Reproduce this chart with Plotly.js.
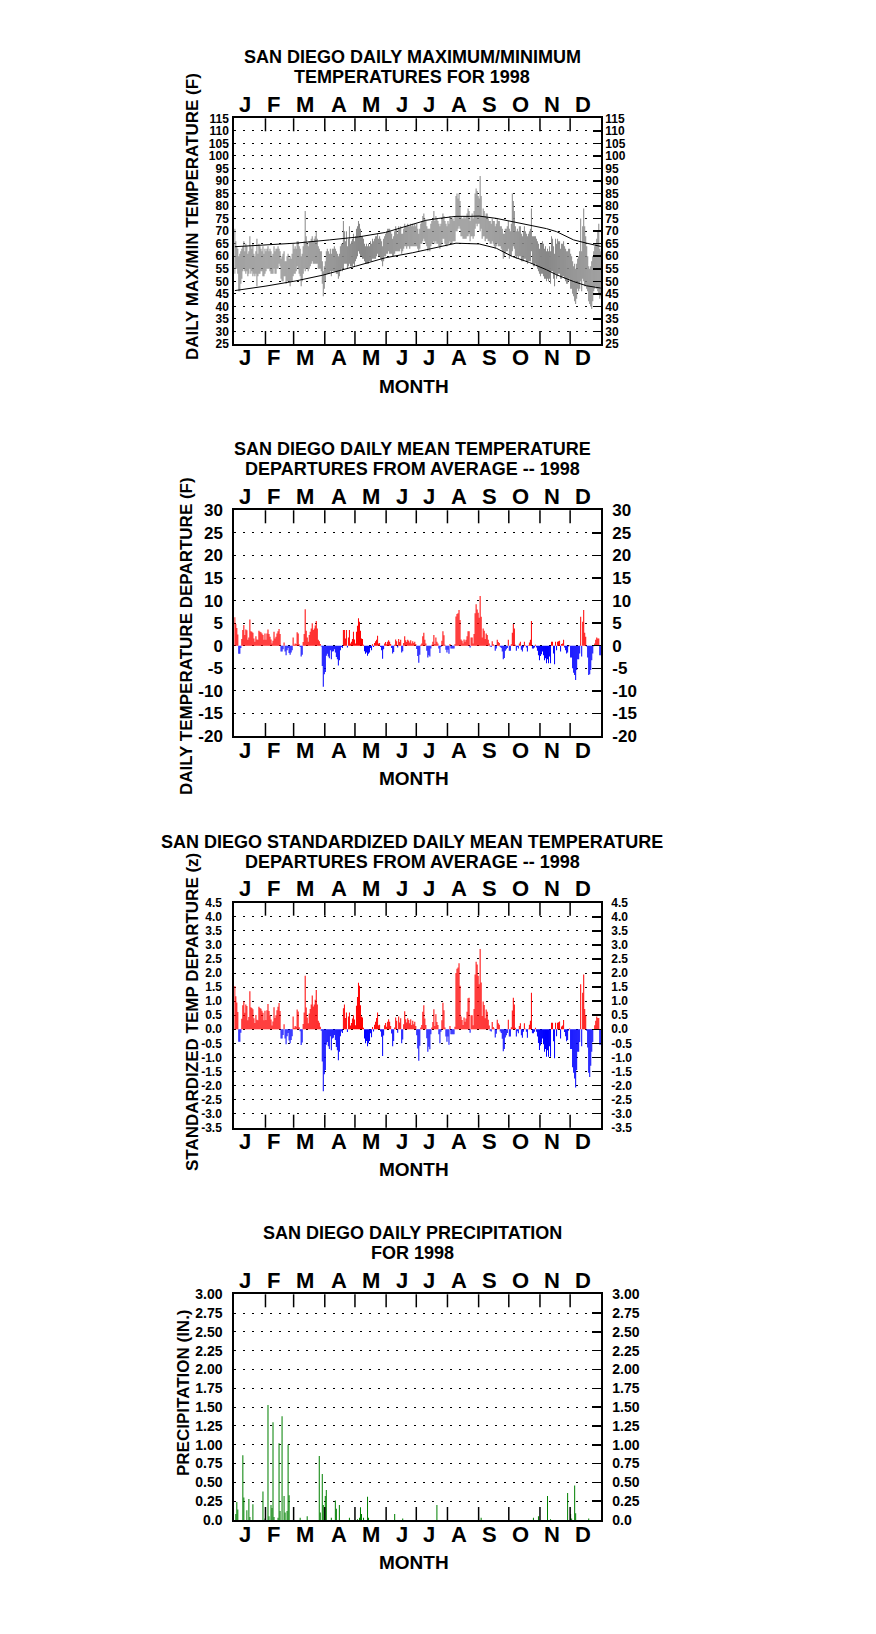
<!DOCTYPE html>
<html><head><meta charset="utf-8">
<script src="https://cdn.plot.ly/plotly-3.0.1.min.js"></script>
<style>html,body{margin:0;padding:0;background:#fff}#chart{width:876px;height:1634px}</style>
</head><body><div id="chart"></div>
<script>
// ---------- DATA ----------
const monthLetters = ['J','F','M','A','M','J','J','A','S','O','N','D'];
const monthLabelPos = [11,39.7,70.7,105,136.7,167,194,223.5,254,285,316,347];
const monthStarts = [32,60,91,121,152,182,213,244,274,305,335];

const tempTicks = [25,30,35,40,45,50,55,60,65,70,75,80,85,90,95,100,105,110,115];
const depTicks = [-20,-15,-10,-5,0,5,10,15,20,25,30];
const zTicks = [-3.5,-3.0,-2.5,-2.0,-1.5,-1.0,-0.5,0,0.5,1.0,1.5,2.0,2.5,3.0,3.5,4.0,4.5];
const zTickText = ['-3.5','-3.0','-2.5','-2.0','-1.5','-1.0','-0.5','0.0','0.5','1.0','1.5','2.0','2.5','3.0','3.5','4.0','4.5'];
const precipTicks = [0,0.25,0.5,0.75,1,1.25,1.5,1.75,2,2.25,2.5,2.75,3];
const precipTickText = ['0.0','0.25','0.50','0.75','1.00','1.25','1.50','1.75','2.00','2.25','2.50','2.75','3.00'];

// daily maximum / minimum temperatures (F)
const tmax = [
71,66,64,63,60,61,62,63,64,66,62,65,64,61,62,68,64,63,65,61,60,62,67,61,65,64,63,62,64,61,63,
62,63,64,62,63,62,60,61,64,62,63,63,64,63,62,59,60,61,62,58,58,60,61,59,60,59,61,65,
63,64,63,66,66,64,63,60,61,64,66,78,68,65,64,66,66,67,68,66,67,68,70,67,64,63,62,62,58,54,56,
58,62,63,62,61,63,61,63,63,64,63,62,61,60,61,64,65,65,74,70,66,70,64,67,72,65,66,67,69,66,
68,71,72,74,73,71,68,68,67,65,64,65,64,65,64,66,65,67,66,67,68,68,69,67,68,67,66,64,67,68,69,
70,71,71,71,70,69,67,68,70,72,71,69,72,71,72,69,69,71,73,72,72,73,72,72,73,72,73,72,73,72,
73,71,69,71,73,74,76,77,75,74,72,71,71,71,73,74,75,78,74,76,75,74,73,72,73,75,77,76,74,73,72,
74,73,76,75,75,75,74,76,84,85,83,85,82,76,75,75,76,75,76,77,79,78,74,76,77,75,78,85,87,86,84,
83,92,84,76,79,78,76,77,77,75,74,74,73,75,74,74,72,73,75,74,74,72,72,71,69,69,71,71,72,74,
71,70,73,85,82,78,72,70,71,70,72,72,69,68,70,72,70,69,68,69,70,71,79,68,68,68,68,67,66,65,63,
65,65,66,65,63,64,62,63,62,64,62,68,67,64,61,67,65,67,66,66,63,65,65,66,64,63,62,62,63,63,
61,60,58,56,57,55,57,59,60,62,75,62,72,79,72,68,64,60,56,55,56,58,60,62,64,65,67,70,73,63,62];
const tmin = [
53,55,55,53,46,46,49,51,54,55,54,53,54,52,53,55,53,54,52,53,52,53,48,52,53,53,54,54,52,52,53,
54,55,55,55,54,53,53,53,55,53,53,55,55,57,56,51,50,50,52,52,49,50,50,50,48,50,50,52,
53,53,54,56,55,53,52,48,50,53,55,54,55,55,54,55,56,57,58,57,57,57,57,57,55,55,55,54,49,44,47,
50,53,53,53,53,54,52,54,54,54,54,53,53,51,52,54,55,54,55,57,57,57,55,56,57,56,56,56,57,56,
58,59,60,62,61,60,60,59,59,58,57,57,57,57,58,58,58,59,59,59,59,60,61,60,60,59,58,56,58,60,60,
61,61,62,61,61,61,60,60,61,62,62,62,62,62,63,61,62,63,64,64,63,64,64,63,64,64,64,64,64,64,
64,63,62,63,65,65,66,67,66,65,64,62,63,62,64,65,65,66,65,66,65,65,64,63,64,65,67,67,65,64,64,
65,65,66,65,65,66,66,66,70,70,71,72,71,68,68,67,67,67,67,68,68,69,66,68,68,67,68,71,73,72,73,
73,70,71,67,68,68,66,67,67,66,66,65,65,66,65,64,63,64,65,64,64,64,63,62,59,60,61,62,62,63,
59,60,60,62,64,63,60,59,60,59,60,60,58,58,58,59,59,58,57,58,58,58,62,57,56,56,57,56,55,54,53,
52,53,53,52,51,51,50,51,50,51,49,54,54,51,48,53,51,52,53,53,51,51,52,52,51,50,49,49,50,51,
47,47,45,44,42,41,43,47,46,47,50,46,51,50,48,48,47,46,42,41,40,39,42,46,47,48,47,46,45,43,44];

// normal daily max / min (F), read at sample days
const normMaxDays = [1,32,61,95,124,151,164,178,191,204,221,234,244,261,277,294,311,321,338,351,365];
const normMax =     [63.8,64.6,65.2,66.5,67.7,69.5,71.0,72.5,74.3,75.1,75.9,75.9,76.0,75.1,73.8,72.4,71.0,69.8,66.5,65.2,63.9];
const normMinDays = [1,32,61,88,121,151,178,204,221,244,261,277,294,311,321,338,351,365];
const normMin =     [46.3,48.1,50.1,52.4,56.0,59.4,61.4,63.8,65.2,64.9,63.2,59.9,57.5,54.6,52.6,49.9,48.2,47.3];

// daily mean temperature departures (F)
const depF = [
6.3,4.8,3.9,2.5,-1.8,-1.8,-0.5,1.5,3.5,4.6,2.4,3.6,3.4,1.3,1.8,5.8,3.2,3.1,2.9,1.6,0.9,2.1,1.4,1.3,3.3,3.1,3.0,2.7,2.4,1.3,2.7,
1.3,2.7,3.6,2.6,2.0,1.4,0.5,1.1,3.1,1.6,2.0,2.7,3.2,3.7,2.6,-1.3,-1.3,-0.8,0.7,-1.3,-2.1,-1.0,-0.5,-1.6,-2.0,-1.5,-1.0,1.8,
0.2,0.5,0.4,3.0,2.7,0.3,-0.3,-2.4,-2.0,0.8,2.6,8.1,3.3,1.8,0.9,2.4,3.1,3.8,5.0,3.5,3.8,4.5,5.5,3.8,1.3,1.0,0.4,-0.2,-4.5,-9.1,-6.3,
-5.8,-2.2,-1.8,-2.4,-2.8,-1.0,-3.0,-1.3,-1.2,-0.8,-1.5,-2.5,-3.0,-4.4,-3.2,-1.0,-0.3,-0.5,3.5,3.5,1.6,3.5,-0.4,1.8,3.5,0.5,0.9,1.5,3.1,1.4,
0.5,3.1,4.4,6.1,5.3,3.3,1.6,1.5,0.2,-1.2,-1.8,-1.5,-2.2,-1.8,-1.5,-0.5,-1.0,0.3,-0.3,0.6,1.0,1.3,2.2,0.5,0.6,-0.3,-1.0,-2.9,-0.8,0.5,0.8,
0.3,0.9,1.2,0.9,0.4,-0.5,-1.7,-1.4,0.2,1.4,1.0,-0.4,1.5,0.8,1.3,-1.5,-1.2,0.6,2.1,1.2,0.8,1.3,1.1,0.7,1.2,0.5,1.0,0.6,0.9,0.4,
-0.7,-2.3,-3.8,-2.0,0.2,0.5,2.1,2.9,1.3,0.5,-1.1,-2.6,-2.1,-2.4,-0.6,0.2,0.9,2.4,0.4,1.8,0.9,0.5,-0.6,-1.6,-0.3,1.1,3.2,2.3,0.2,-0.9,-1.5,
-0.9,-1.8,0.4,-0.6,-0.6,-0.6,-0.6,0.3,6.5,7.0,7.2,7.9,5.7,1.4,1.1,0.5,1.4,0.9,1.3,2.1,3.2,3.2,-0.4,1.8,1.8,0.5,2.6,7.2,9.2,8.0,7.3,
6.2,11.0,6.4,1.8,3.8,3.3,1.5,2.7,2.4,1.3,0.5,-0.2,-0.3,1.0,0.3,0.1,-1.1,-0.6,1.3,0.8,0.6,-0.3,-0.5,-1.3,-3.0,-2.7,-1.1,-0.8,-0.5,1.3,
-1.1,-1.1,0.3,2.9,4.8,3.8,0.2,-1.1,-0.3,-0.6,0.5,0.9,-0.9,-1.3,-0.4,0.9,0.1,-0.4,-1.3,0.1,0.7,1.3,5.5,-0.6,-0.6,-0.4,0.2,-0.4,-1.1,-2.1,-3.2,
-2.3,-1.9,-1.3,-2.1,-3.2,-2.8,-3.9,-3.0,-3.9,-2.4,-3.9,0.9,0.9,-1.7,-4.1,0.9,-1.0,0.9,1.0,1.1,-1.3,0.4,0.5,1.3,-0.4,-1.0,-1.7,-1.5,-0.2,0.1,
-2.6,-2.6,-5.0,-6.0,-6.5,-7.6,-5.4,-3.0,-3.0,-1.7,6.4,-2.4,5.3,7.9,2.9,2.0,-0.2,-2.6,-6.5,-6.3,-5.4,-3.2,-1.7,-0.1,0.5,1.3,1.8,1.6,1.6,-2.1,-2.1];

// standardized daily mean temperature departures (z)
const depZ = [
1.54,1.17,0.95,0.61,-0.44,-0.44,-0.12,0.37,0.85,1.0,0.59,0.88,0.83,0.32,0.44,1.35,0.78,0.76,0.71,0.39,0.22,0.51,0.34,0.32,0.8,0.76,0.73,0.66,0.59,0.32,0.66,
0.33,0.68,0.9,0.65,0.5,0.35,0.13,0.28,0.78,0.4,0.5,0.68,0.8,0.93,0.65,-0.33,-0.33,-0.2,0.18,-0.33,-0.53,-0.25,-0.13,-0.4,-0.5,-0.38,-0.25,0.45,
0.05,0.12,0.09,0.7,0.63,0.07,-0.07,-0.56,-0.47,0.19,0.6,1.9,0.77,0.42,0.21,0.56,0.72,0.88,1.2,0.81,0.88,1.05,1.4,0.88,0.3,0.23,0.09,-0.05,-1.15,-2.2,-1.6,
-1.45,-0.55,-0.45,-0.6,-0.7,-0.25,-0.75,-0.33,-0.3,-0.2,-0.38,-0.63,-0.75,-1.1,-0.8,-0.25,-0.08,-0.13,0.75,0.88,0.4,0.6,-0.1,0.45,0.6,0.13,0.22,0.38,0.5,0.35,
0.14,0.84,1.15,1.65,1.55,0.85,0.45,0.42,0.05,-0.33,-0.5,-0.42,-0.6,-0.5,-0.42,-0.14,-0.28,0.08,-0.08,0.16,0.27,0.4,0.6,0.14,0.16,-0.08,-0.27,-0.95,-0.22,0.14,0.22,
0.09,0.27,0.36,0.27,0.12,-0.15,-0.6,-0.42,0.06,0.42,0.3,-0.12,0.45,0.24,0.39,-0.5,-0.36,0.18,0.64,0.36,0.24,0.39,0.33,0.21,0.36,0.15,0.3,0.18,0.27,0.12,
-0.21,-0.68,-1.12,-0.59,0.06,0.15,0.62,0.85,0.38,0.15,-0.32,-0.8,-0.62,-0.71,-0.18,0.06,0.26,0.71,0.12,0.53,0.26,0.15,-0.18,-0.5,-0.09,0.32,0.94,0.68,0.06,-0.26,-0.44,
-0.26,-0.55,0.12,-0.18,-0.18,-0.18,-0.18,0.09,2.0,2.15,2.2,2.35,1.55,0.45,0.33,0.15,0.42,0.27,0.38,0.62,1.1,1.12,-0.12,0.5,0.5,0.14,0.72,1.95,2.4,2.3,1.9,
1.6,2.85,1.66,0.47,0.99,0.86,0.39,0.7,0.62,0.34,0.13,-0.05,-0.08,0.26,0.08,0.03,-0.29,-0.16,0.34,0.21,0.16,-0.08,-0.13,-0.34,-0.78,-0.7,-0.29,-0.21,-0.13,0.34,
-0.26,-0.26,0.07,0.67,1.12,0.88,0.05,-0.26,-0.07,-0.14,0.12,0.21,-0.21,-0.3,-0.09,0.21,0.02,-0.09,-0.3,0.02,0.16,0.3,1.3,-0.14,-0.14,-0.09,0.05,-0.09,-0.26,-0.49,-0.74,
-0.58,-0.48,-0.33,-0.53,-0.8,-0.7,-0.98,-0.75,-0.98,-0.6,-0.98,0.23,0.23,-0.43,-1.03,0.23,-0.25,0.23,0.25,0.28,-0.33,0.1,0.13,0.33,-0.1,-0.25,-0.43,-0.38,-0.05,0.03,
-0.7,-0.7,-1.35,-1.55,-1.75,-2.07,-1.45,-0.8,-0.8,-0.45,1.6,-0.6,1.3,1.95,0.72,0.5,-0.05,-0.65,-1.55,-1.7,-1.3,-0.8,-0.45,-0.03,0.14,0.3,0.45,0.4,0.4,-0.55,-0.55];

// daily precipitation (in.), days with measurable rain
const precipDays = [2,3,4,9,10,13,15,16,19,29,31,34,35,37,38,39,40,44,45,46,48,50,51,53,54,55,66,73,85,86,88,89,91,92,97,101,102,105,115,123,125,126,127,129,133,134,160,168,202,246,298,303,312,315,332,335,336,339,340,353];
const precipVals = [0.08,0.24,0.14,0.86,0.30,0.13,0.28,0.04,0.21,0.38,0.02,1.53,0.05,0.20,0.16,1.30,0.04,0.03,1.02,0.12,1.38,0.32,0.10,0.12,1.00,0.33,0.03,0.05,0.85,0.10,0.61,0.20,0.32,0.40,0.03,0.26,0.15,0.20,0.03,0.01,0.03,0.17,0.08,0.03,0.31,0.03,0.08,0.02,0.20,0.03,0.03,0.05,0.32,0.01,0.36,0.08,0.02,0.46,0.09,0.02];

// ---------- CHART ----------
const days = Array.from({length: 365}, (_, i) => i + 1);
const FONT = 'Arial, "Liberation Sans", sans-serif';
const W = 876, H = 1634, X0 = 234.3, X1 = 601.3;
const py = p => 1 - p / H;

const panels = [
  {top:118.3, bot:344, range:[25,115], tv:tempTicks, tt:tempTicks.map(String), fs:12, lst:1, rst:3, rlen:8,
   title:['SAN DIEGO DAILY MAXIMUM/MINIMUM','TEMPERATURES FOR 1998'], yt:'DAILY MAX/MIN TEMPERATURE (F)', ytx:192, yty:217},
  {top:510.3, bot:736, range:[-20,30], tv:depTicks, tt:depTicks.map(String), fs:17, lst:6, rst:10, rlen:9,
   title:['SAN DIEGO DAILY MEAN TEMPERATURE','DEPARTURES FROM AVERAGE -- 1998'], yt:'DAILY TEMPERATURE DEPARTURE (F)', ytx:187, yty:636},
  {top:902.7, bot:1127.7, range:[-3.5,4.5], tv:zTicks, tt:zTickText, fs:12, lst:8, rst:9, rlen:9,
   title:['SAN DIEGO STANDARDIZED DAILY MEAN TEMPERATURE','DEPARTURES FROM AVERAGE -- 1998'], yt:'STANDARDIZED TEMP DEPARTURE (z)', ytx:192, yty:1012},
  {top:1294.3, bot:1520, range:[0,3], tv:precipTicks, tt:precipTickText, fs:14, lst:7, rst:10, rlen:9,
   title:['SAN DIEGO DAILY PRECIPITATION','FOR 1998'], yt:'PRECIPITATION (IN.)', ytx:183, yty:1393}
];

const layout = {
  width: W, height: H, margin: {l:0, r:0, t:0, b:0},
  paper_bgcolor: '#fff', plot_bgcolor: '#fff', showlegend: false,
  barmode: 'overlay', font: {family: FONT, color: '#000'},
  annotations: [], shapes: []
};

panels.forEach((p, i) => {
  const k = i + 1;
  const xs = k === 1 ? '' : String(k);
  const ydom = [py(p.bot), py(p.top)];
  const ph = p.bot - p.top;
  layout['xaxis' + xs] = {
    domain: [X0 / W, X1 / W], range: [0.5, 365.5], anchor: 'y' + xs,
    showline: true, mirror: true, linecolor: '#000', linewidth: 2,
    ticks: '', showticklabels: false, showgrid: false, zeroline: false, fixedrange: true
  };
  layout['yaxis' + xs] = {
    domain: ydom, range: p.range, anchor: 'x' + xs,
    tickmode: 'array', tickvals: p.tv, ticktext: p.tt,
    tickfont: {family: FONT, size: p.fs, weight: 'bold', color: '#000'},
    ticks: '', ticklabelstandoff: p.lst,
    showgrid: true, gridcolor: '#000', gridwidth: 1, griddash: '2px,7px',
    showline: true, mirror: true, linecolor: '#000', linewidth: 2,
    zeroline: false, fixedrange: true
  };
  layout['yaxis' + (k + 4)] = {
    domain: ydom, range: p.range, overlaying: 'y' + xs, side: 'right', anchor: 'x' + xs,
    tickmode: 'array', tickvals: p.tv, ticktext: p.tt,
    tickfont: {family: FONT, size: p.fs, weight: 'bold', color: '#000'},
    ticks: 'inside', ticklen: p.rlen, tickwidth: 1.5, tickcolor: '#000', ticklabelstandoff: p.rst,
    showgrid: false, zeroline: false, showline: false, fixedrange: true
  };
  // month boundary ticks
  const tl = 13 / ph;
  monthStarts.forEach(ms => {
    layout.shapes.push({type:'line', xref:'x' + xs, yref:'y' + xs + ' domain', x0:ms - 0.5, x1:ms - 0.5, y0:0, y1:tl, line:{color:'#000', width:1.5}});
    layout.shapes.push({type:'line', xref:'x' + xs, yref:'y' + xs + ' domain', x0:ms - 0.5, x1:ms - 0.5, y0:1 - tl, y1:1, line:{color:'#000', width:1.5}});
  });
  // month letters top and bottom
  monthLetters.forEach((m, j) => {
    [p.top - 13.8, p.bot + 14].forEach(yy => {
      layout.annotations.push({xref:'x' + xs, yref:'paper', x:monthLabelPos[j], y:py(yy), text:m, showarrow:false,
        xanchor:'center', yanchor:'middle', font:{family:FONT, size:22, weight:'bold', color:'#000'}});
    });
  });
  // title (two lines)
  p.title.forEach((line, li) => {
    layout.annotations.push({xref:'paper', yref:'paper', x:412 / W, y:py(p.top - 61 + 20 * li), text:line, showarrow:false,
      xanchor:'center', yanchor:'middle', font:{family:FONT, size:18, weight:'bold', color:'#000'}});
  });
  // MONTH
  layout.annotations.push({xref:'paper', yref:'paper', x:414 / W, y:py(p.bot + 42), text:'MONTH', showarrow:false,
    xanchor:'center', yanchor:'middle', font:{family:FONT, size:19, weight:'bold', color:'#000'}});
  // y title
  layout.annotations.push({xref:'paper', yref:'paper', x:p.ytx / W, y:py(p.yty), text:p.yt, showarrow:false, textangle:-90,
    xanchor:'center', yanchor:'middle', font:{family:FONT, size:17, weight:'bold', color:'#000'}});
});

const span = tmax.map((v, i) => v - tmin[i]);
const data = [
  {type:'bar', x:days, y:span, base:tmin, width:1, xaxis:'x', yaxis:'y',
   marker:{color:'#888888', line:{width:0}}, hoverinfo:'skip'},
  {type:'scatter', mode:'lines', x:normMaxDays, y:normMax, xaxis:'x', yaxis:'y', line:{color:'#000', width:1}, hoverinfo:'skip'},
  {type:'scatter', mode:'lines', x:normMinDays, y:normMin, xaxis:'x', yaxis:'y', line:{color:'#000', width:1}, hoverinfo:'skip'},
  {type:'bar', x:days, y:depF, width:1, xaxis:'x2', yaxis:'y2',
   marker:{color:depF.map(v => v >= 0 ? '#ff0000' : '#0000ff'), line:{width:0}}, hoverinfo:'skip'},
  {type:'bar', x:days, y:depZ, width:1, xaxis:'x3', yaxis:'y3',
   marker:{color:depZ.map(v => v >= 0 ? '#ff0000' : '#0000ff'), line:{width:0}}, hoverinfo:'skip'},
  {type:'bar', x:precipDays, y:precipVals, width:1, xaxis:'x4', yaxis:'y4',
   marker:{color:'#008000', line:{width:0}}, hoverinfo:'skip'}
];
// empty traces to attach the right-hand axes
['', '2', '3', '4'].forEach((xs, i) => {
  data.push({type:'scatter', mode:'markers', x:[null], y:[null], xaxis:'x' + xs, yaxis:'y' + (i + 5), hoverinfo:'skip', showlegend:false});
});

Plotly.newPlot('chart', data, layout, {staticPlot: true, displayModeBar: false});
</script>
</body></html>
